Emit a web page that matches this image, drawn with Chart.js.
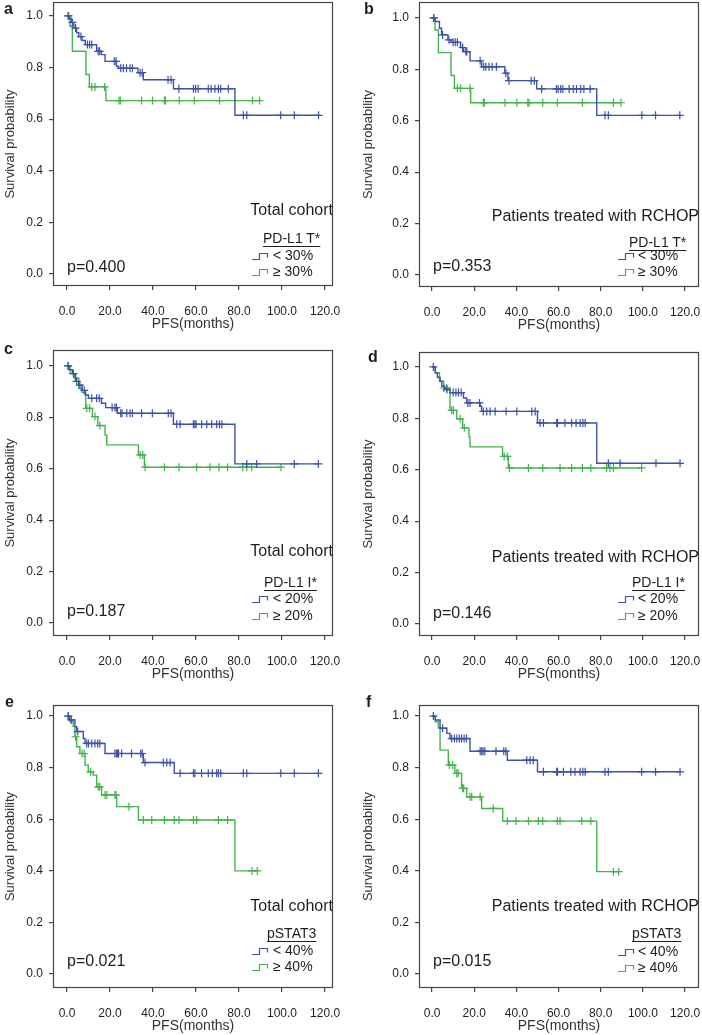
<!DOCTYPE html>
<html>
<head>
<meta charset="utf-8">
<script src="https://cdn.jsdelivr.net/npm/chart.js@4/dist/chart.umd.min.js"></script>
<style>
  body { margin: 0; background: #fff; }
  #fig { position: relative; width: 702px; height: 1035px; overflow: hidden; font-family: "Liberation Sans", Arial, sans-serif; }
  canvas { position: absolute; }
  .t { position: absolute; white-space: nowrap; color: #1e1e1e; }
  .u { text-decoration: underline; text-underline-offset: 3px; text-decoration-thickness: 1px; }
  .ic { position: absolute; }
</style>
</head>
<body>
<div id="fig"></div>
<script>
  const BLUE = '#3d51a6';
  const GREEN = '#45b24e';

  const xTicks = [0, 20, 40, 60, 80, 100, 120];
  const yTicks = [0, 0.2, 0.4, 0.6, 0.8, 1.0];

  // a - PD-L1 T*, total cohort
  const aBlueT = [0, 1.0, 2.0, 3.2, 4.5, 5.5, 7.0, 8.5, 13.8, 16.0, 17.7, 23.0, 24.0, 33.0, 35.5, 49.5, 78.1, 117];
  const aBlueS = [1, 0.99, 0.975, 0.953, 0.935, 0.92, 0.905, 0.889, 0.863, 0.85, 0.824, 0.805, 0.797, 0.78, 0.753, 0.718, 0.615, 0.615];
  const aBlueC = [0.5, 2.5, 4, 6.5, 9.5, 10.5, 11.5, 14.5, 15.2, 22, 22.8, 25, 26.2, 27.7, 29.3, 30.4, 34, 35, 47, 48.4, 52, 58.8, 59.8, 61, 65.7, 67, 68.8, 70.4, 71.5, 75, 82, 83.6, 99.4, 105.7, 117];
  const aGreenT = [0, 1.4, 2.5, 8.8, 10.4, 18.1, 89.5];
  const aGreenS = [1, 0.96, 0.863, 0.773, 0.725, 0.672, 0.672];
  const aGreenC = [0.8, 11.5, 13, 17.5, 24.2, 24.8, 34.7, 39.8, 45.3, 45.8, 52.2, 59.2, 70.9, 86.3, 89.5];

  // b - PD-L1 T*, RCHOP
  const bBlueT = [0, 1.5, 3.5, 4.5, 7.5, 9.0, 13.5, 15.0, 18.0, 23.5, 34.5, 36.0, 49.6, 78.1, 117.5];
  const bBlueS = [1, 0.986, 0.96, 0.934, 0.915, 0.905, 0.885, 0.869, 0.833, 0.81, 0.785, 0.756, 0.724, 0.621, 0.621];
  const bBlueC = [0.8, 5, 8, 10, 11, 12, 14.5, 16, 16.5, 22.8, 24.5, 25.5, 27, 28.5, 30.5, 35, 36.5, 47, 48.5, 52, 59, 59.8, 61, 62, 65, 67, 68.5, 70.5, 72, 75, 82, 83.6, 99.5, 106, 117.5];
  const bGreenT = [0, 1.4, 3.0, 9.0, 10.6, 18.3, 89.6];
  const bGreenS = [1, 0.953, 0.865, 0.776, 0.726, 0.67, 0.67];
  const bGreenC = [0.8, 12, 13.5, 18, 24.3, 24.8, 34.6, 40.2, 45.4, 46, 52.5, 59.4, 71.3, 86, 89.6];

  // c - PD-L1 I*, total cohort
  const cBlueT = [0, 1.0, 2.5, 4.0, 5.5, 7.0, 8.5, 10.0, 16.0, 18.0, 23.4, 49.5, 78.1, 116.9];
  const cBlueS = [1, 0.985, 0.97, 0.94, 0.925, 0.905, 0.887, 0.874, 0.855, 0.838, 0.816, 0.773, 0.619, 0.619];
  const cBlueC = [0.5, 3, 4.5, 6, 8, 11.5, 13.8, 15, 21, 22.3, 23, 25, 25.6, 27.8, 29.3, 30.4, 34.7, 39.7, 47.1, 48.4, 51, 52.6, 58.8, 59.5, 60, 62.6, 65, 67.3, 69.6, 70.9, 72, 83.6, 88.2, 105.7, 116.9];
  const cGreenT = [0, 1.5, 3.5, 5.5, 7.0, 8.7, 11.8, 14.3, 17.7, 18.5, 33.2, 36.0, 99.5];
  const cGreenS = [1, 0.97, 0.952, 0.913, 0.897, 0.835, 0.803, 0.768, 0.731, 0.693, 0.654, 0.606, 0.606];
  const cGreenC = [0.6, 9.2, 10.5, 13, 15.3, 34, 35.2, 36.3, 45.3, 52.1, 60.3, 66.5, 70.7, 74.7, 81.7, 83.6, 85.9, 99.5];

  // d - PD-L1 I*, RCHOP
  const dBlueT = [0, 1.5, 2.5, 3.8, 4.6, 6.0, 8.5, 14.9, 16.4, 22.8, 23.5, 50.0, 78.1, 117.6];
  const dBlueS = [1, 0.977, 0.96, 0.944, 0.925, 0.912, 0.9, 0.879, 0.86, 0.847, 0.827, 0.782, 0.625, 0.625];
  const dBlueC = [0.6, 7, 10, 11.3, 12.5, 13.8, 17, 18, 22.5, 24.3, 25.9, 27.5, 29.9, 35.1, 40.2, 47.3, 48.9, 51.2, 52.8, 59.1, 59.5, 63, 66.2, 68.3, 70.2, 71.5, 72.6, 83.6, 89.2, 106.2, 117.6];
  const dGreenT = [0, 1.5, 3.5, 5.5, 8.5, 11.7, 14.5, 17.5, 18.0, 33.4, 36.2, 99.4];
  const dGreenS = [1, 0.977, 0.944, 0.918, 0.831, 0.798, 0.763, 0.728, 0.689, 0.652, 0.607, 0.607];
  const dGreenC = [5.5, 7, 9.3, 10.1, 13.3, 15.3, 34.2, 35.7, 36.7, 45.7, 52.5, 60.7, 66.2, 71.3, 75.3, 82.8, 84.4, 86, 99.4];

  // e - pSTAT3, total cohort
  const eBlueT = [0, 1.0, 3.7, 4.5, 7.6, 8.4, 17.7, 35.5, 49.9, 116.9];
  const eBlueS = [1, 0.985, 0.959, 0.94, 0.913, 0.894, 0.855, 0.82, 0.778, 0.778];
  const eBlueC = [0.6, 2, 5, 9.2, 10, 11.5, 13, 14.3, 15.3, 22.3, 23, 23.5, 24, 25.4, 30, 34.3, 35, 36.3, 44.8, 46.4, 48, 52.6, 58.8, 59.5, 62.6, 65.7, 67.6, 69.6, 70.4, 71.5, 82, 83.6, 99.4, 105.7, 116.9];
  const eGreenT = [0, 1.4, 2.9, 3.7, 4.5, 6.0, 8.4, 9.9, 12.2, 13.8, 16.1, 23.1, 33.2, 78.1, 88.5];
  const eGreenS = [1, 0.978, 0.959, 0.92, 0.881, 0.855, 0.81, 0.784, 0.771, 0.726, 0.694, 0.649, 0.597, 0.4, 0.4];
  const eGreenC = [0.6, 4, 7, 8, 11, 14.5, 15.2, 17.7, 18.5, 22.3, 22.8, 28.8, 35.5, 39.4, 45.3, 49.9, 52.1, 58.8, 60.3, 70.4, 74.7, 86, 88.5];

  // f - pSTAT3, RCHOP
  const fBlueT = [0, 1.5, 3.8, 7.0, 8.5, 18.0, 35.7, 50.0, 117.6];
  const fBlueS = [1, 0.985, 0.953, 0.933, 0.913, 0.864, 0.829, 0.784, 0.784];
  const fBlueC = [0.6, 5, 9.3, 10.6, 11.7, 12.9, 14, 15.2, 16.3, 22.8, 23.5, 24.2, 25, 30.3, 34, 35, 44.9, 46.5, 48, 52.8, 59.1, 59.5, 62.3, 65.8, 67.8, 70.2, 71.5, 72.6, 82, 83.6, 99.4, 106, 117.6];
  const fGreenT = [0, 1.5, 3.0, 3.8, 7.7, 10.8, 14.0, 16.4, 23.5, 33.5, 78.1, 88.5];
  const fGreenS = [1, 0.978, 0.955, 0.868, 0.81, 0.778, 0.72, 0.687, 0.642, 0.593, 0.397, 0.397];
  const fGreenC = [8.2, 9.8, 11.7, 12.4, 14.5, 15, 18, 18.8, 22.8, 29, 35.7, 39.8, 45.7, 50.4, 52.5, 59.4, 60.7, 71, 75.3, 86, 88.5];

  const panels = [
    { letter: 'a', ox: 0, oy: 0, box: [53, 2, 333, 286], xr: [-6.5, 123.7], yr: [-0.0465, 1.054],
      blue: [aBlueT, aBlueS, aBlueC], green: [aGreenT, aGreenS, aGreenC],
      cohort: 'Total cohort', group: 'PD-L1 T*', low: '< 30%', high: '≥ 30%', p: 'p=0.400',
      pos: { let: [4, 15], coh: [333, 216], grp: [263, 243], it: [273, 260, 276], ic: 252, p: [67, 273] } },
    { letter: 'b', ox: 351, oy: 0, box: [419, 2, 699, 287], xr: [-6.2, 126.6], yr: [-0.0467, 1.062],
      blue: [bBlueT, bBlueS, bBlueC], green: [bGreenT, bGreenS, bGreenC],
      cohort: 'Patients treated with RCHOP', group: 'PD-L1 T*', low: '< 30%', high: '≥ 30%', p: 'p=0.353',
      pos: { let: [13, 15], coh: [348, 222], grp: [278, 247], it: [287, 260, 276], ic: 267, p: [82, 272] } },
    { letter: 'c', ox: 0, oy: 340, box: [53, 350, 333, 636], xr: [-6.5, 123.7], yr: [-0.0506, 1.062],
      blue: [cBlueT, cBlueS, cBlueC], green: [cGreenT, cGreenS, cGreenC],
      cohort: 'Total cohort', group: 'PD-L1 I*', low: '< 20%', high: '≥ 20%', p: 'p=0.187',
      pos: { let: [4, 15], coh: [333, 217], grp: [264, 247], it: [273, 263, 280], ic: 252, p: [67, 277] } },
    { letter: 'd', ox: 351, oy: 340, box: [419, 352, 699, 636], xr: [-6.2, 126.6], yr: [-0.0467, 1.058],
      blue: [dBlueT, dBlueS, dBlueC], green: [dGreenT, dGreenS, dGreenC],
      cohort: 'Patients treated with RCHOP', group: 'PD-L1 I*', low: '< 20%', high: '≥ 20%', p: 'p=0.146',
      pos: { let: [17, 23], coh: [348, 223], grp: [281, 247], it: [287, 263, 280], ic: 267, p: [82, 279] } },
    { letter: 'e', ox: 0, oy: 685, box: [53, 705, 333, 988], xr: [-6.5, 123.7], yr: [-0.054, 1.043],
      blue: [eBlueT, eBlueS, eBlueC], green: [eGreenT, eGreenS, eGreenC],
      cohort: 'Total cohort', group: 'pSTAT3', low: '< 40%', high: '≥ 40%', p: 'p=0.021',
      pos: { let: [5, 23], coh: [333, 227], grp: [267, 253], it: [273, 270, 286], ic: 252, p: [67, 282] } },
    { letter: 'f', ox: 351, oy: 685, box: [419, 705, 699, 988], xr: [-6.2, 126.6], yr: [-0.054, 1.043],
      blue: [fBlueT, fBlueS, fBlueC], green: [fGreenT, fGreenS, fGreenC],
      cohort: 'Patients treated with RCHOP', group: 'pSTAT3', low: '< 40%', high: '≥ 40%', p: 'p=0.015',
      pos: { let: [15, 23], coh: [348, 227], grp: [281, 253], it: [287, 271, 287], ic: 267, p: [82, 282] } },
  ];

  const fig = document.getElementById('fig');
  Chart.defaults.font.family = '"Liberation Sans", Arial, sans-serif';
  Chart.defaults.color = '#1e1e1e';

  function stepPoints(t, s) {
    return t.map((v, i) => ({ x: v, y: s[i] }));
  }

  function censorPoints(t, s, c) {
    return c.map((v) => {
      let y = s[0];
      t.forEach((tv, i) => { if (tv <= v) y = s[i]; });
      return { x: v, y };
    });
  }

  const boxPlugin = {
    id: 'frame',
    afterDraw(chart) {
      const { ctx, chartArea: a } = chart;
      ctx.save();
      ctx.strokeStyle = '#444';
      ctx.lineWidth = 1.2;
      ctx.strokeRect(a.left + 0.5, a.top + 0.5, a.right - a.left - 1, a.bottom - a.top - 1);
      ctx.restore();
    },
  };

  function addText(x, baseline, size, text, extra) {
    const el = document.createElement('div');
    el.className = 't' + (extra && extra.cls ? ' ' + extra.cls : '');
    el.style.fontSize = size + 'px';
    el.style.lineHeight = size + 'px';
    el.style.top = (baseline - 0.85 * size) + 'px';
    if (extra && extra.right) {
      el.style.right = (702 - x) + 'px';
    } else {
      el.style.left = x + 'px';
    }
    if (extra && extra.bold) el.style.fontWeight = 'bold';
    el.textContent = text;
    fig.appendChild(el);
  }

  function addIcon(x, baseline, color) {
    const ns = 'http://www.w3.org/2000/svg';
    const svg = document.createElementNS(ns, 'svg');
    svg.setAttribute('width', '18');
    svg.setAttribute('height', '10');
    svg.setAttribute('class', 'ic');
    svg.style.left = x + 'px';
    svg.style.top = (baseline - 9) + 'px';
    const path = document.createElementNS(ns, 'path');
    path.setAttribute('d', 'M0 8.5H7.5V2.5H15.5V6.5');
    path.setAttribute('stroke', color);
    path.setAttribute('stroke-width', '1.2');
    path.setAttribute('fill', 'none');
    svg.appendChild(path);
    fig.appendChild(svg);
  }

  function drawPanel(p) {
    const [bl, bt, br, bb] = p.box;
    const top = bt - 2;
    const width = 351;
    const height = bb + 49 - top;
    const canvas = document.createElement('canvas');
    canvas.width = width;
    canvas.height = height;
    canvas.style.left = p.ox + 'px';
    canvas.style.top = top + 'px';
    fig.appendChild(canvas);

    const left = p.ox === 0;
    const lineDs = (d, color) => ({
      data: stepPoints(d[0], d[1]),
      stepped: true,
      borderColor: color,
      borderWidth: 1.4,
      pointRadius: 0,
      fill: false,
    });
    const censDs = (d, color) => ({
      data: censorPoints(d[0], d[1], d[2]),
      showLine: false,
      pointStyle: 'cross',
      pointRadius: 4,
      pointBorderWidth: 1.2,
      borderColor: color,
      backgroundColor: color,
    });

    new Chart(canvas, {
      type: 'line',
      data: {
        datasets: [
          lineDs(p.blue, BLUE), censDs(p.blue, BLUE),
          lineDs(p.green, GREEN), censDs(p.green, GREEN),
        ],
      },
      options: {
        responsive: false,
        animation: false,
        devicePixelRatio: 1,
        layout: { autoPadding: false, padding: { top: 2, right: p.ox + width - br, left: 0, bottom: 0 } },
        plugins: { legend: { display: false }, tooltip: { enabled: false } },
        scales: {
          x: {
            type: 'linear',
            min: p.xr[0],
            max: p.xr[1],
            afterBuildTicks: (s) => { s.ticks = xTicks.map((v) => ({ value: v })); },
            afterFit: (s) => {
              s.height = height - (bb - top);
              s.paddingLeft = 0;
              s.paddingRight = 0;
            },
            ticks: { padding: 14, font: { size: 12 }, color: '#1e1e1e', callback: (v) => Number(v).toFixed(1), maxRotation: 0, autoSkip: false },
            grid: { drawOnChartArea: false, drawTicks: true, tickLength: 4, color: '#444', lineWidth: 1.2 },
            border: { display: false },
            title: { display: true, text: 'PFS(months)', font: { size: 14 }, color: '#333', padding: { top: 0, bottom: 2 } },
          },
          y: {
            type: 'linear',
            min: p.yr[0],
            max: p.yr[1],
            afterBuildTicks: (s) => { s.ticks = yTicks.map((v) => ({ value: v })); },
            afterFit: (s) => {
              s.width = bl - p.ox;
              s.paddingTop = 0;
              s.paddingBottom = 0;
            },
            ticks: { padding: 6, font: { size: 12 }, color: '#1e1e1e', callback: (v) => Number(v).toFixed(1) },
            grid: { drawOnChartArea: false, drawTicks: true, tickLength: 4, color: '#444', lineWidth: 1.2 },
            border: { display: false },
            title: { display: true, text: 'Survival probability', font: { size: 13 }, color: '#333', padding: { top: left ? 3 : 10, bottom: 0 } },
          },
        },
      },
      plugins: [boxPlugin],
    });

    const q = p.pos;
    addText(p.ox + q.let[0], p.oy + q.let[1], 16, p.letter, { bold: true });
    addText(p.ox + q.coh[0], p.oy + q.coh[1], 16, p.cohort, { right: true });
    addText(p.ox + q.grp[0], p.oy + q.grp[1], 14, p.group, { cls: 'u' });
    addText(p.ox + q.it[0], p.oy + q.it[1], 14, p.low);
    addText(p.ox + q.it[0], p.oy + q.it[2], 14, p.high);
    addIcon(p.ox + q.ic, p.oy + q.it[1], BLUE);
    addIcon(p.ox + q.ic, p.oy + q.it[2], GREEN);
    addText(p.ox + q.p[0], p.oy + q.p[1], 16, p.p);
  }

  panels.forEach(drawPanel);
</script>
</body>
</html>
